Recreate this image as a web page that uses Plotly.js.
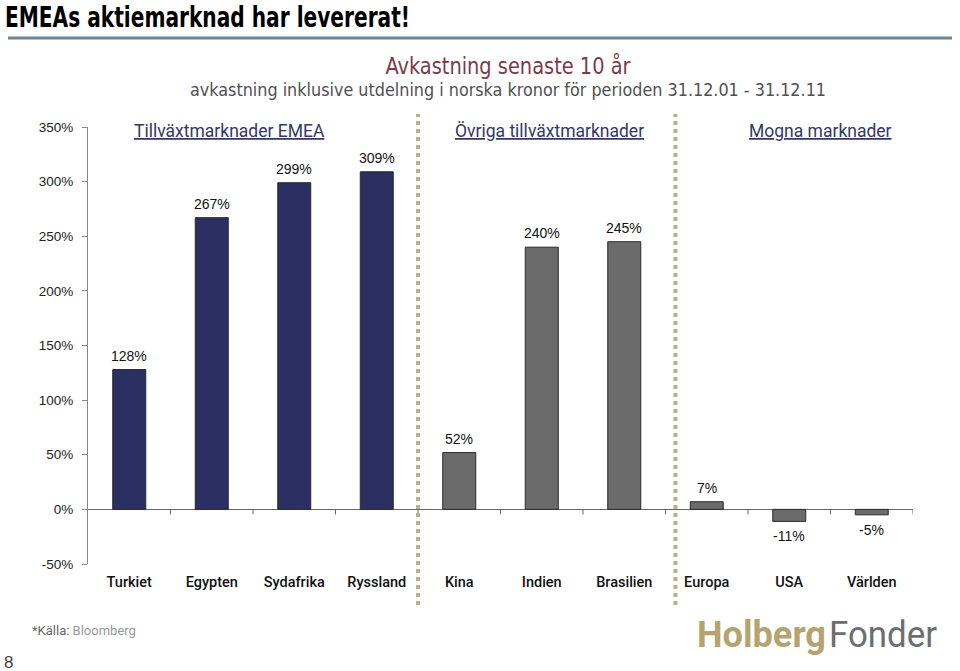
<!DOCTYPE html>
<html>
<head>
<meta charset="utf-8">
<script src="https://cdn.plot.ly/plotly-3.0.1.min.js"></script>
<style>html,body{margin:0;padding:0;background:#fff;}#chart{width:960px;height:671px;}</style>
</head>
<body>
<div id="chart"></div>
<script>
// ---- data ----
const categories = ["Turkiet","Egypten","Sydafrika","Ryssland","Kina","Indien","Brasilien","Europa","USA","Världen"];
const returns = [128, 267, 299, 309, 52, 240, 245, 7, -11, -5];
const groupOf = ["emea","emea","emea","emea","ovr","ovr","ovr","mogna","mogna","mogna"];
const groupHeaders = ["Tillväxtmarknader EMEA","Övriga tillväxtmarknader","Mogna marknader"];
const yTickVals = [-50, 0, 50, 100, 150, 200, 250, 300, 350];

// ---- geometry helpers (pixel -> paper) ----
const W = 960, H = 671, ML = 88, MR = 47, MT = 127, MB = 107;
const PW = W - ML - MR, PH = H - MT - MB;
const px = X => (X - ML) / PW;
const py = Y => (H - MB - Y) / PH;

const COND = "DejaVu Sans Condensed, Roboto, sans-serif";
const colors = {emea: "#2b2f62", ovr: "#6b6b6b", mogna: "#6b6b6b"};

const trace = {
  type: "bar",
  x: categories,
  y: returns,
  width: 0.4,
  marker: {color: groupOf.map(g => colors[g]), line: {color: "#2a2a2a", width: 1}},
  hoverinfo: "x+y"
};

const annotations = [];
// value labels
categories.forEach((c, i) => {
  const v = returns[i];
  annotations.push({
    x: c, y: v, xref: "x", yref: "y",
    text: v + "%", showarrow: false,
    yanchor: v >= 0 ? "bottom" : "top",
    yshift: v >= 0 ? 4 : -5,
    font: {family: "Liberation Sans, Arial, sans-serif", size: 14, color: "#111"}
  });
});
// group headers
const headerX = [229, 549, 820];
groupHeaders.forEach((t, i) => {
  annotations.push({
    x: px(headerX[i]), y: py(131), xref: "paper", yref: "paper",
    text: "<u>" + t + "</u>", showarrow: false, xanchor: "center", yanchor: "middle",
    font: {family: "Roboto, sans-serif", size: 17.5, color: "#343866"}
  });
});
// titles & misc text  (fit: target pixel width, applied after render)
const fits = [];
function addText(t, X, Y, xanchor, font, fitW) {
  annotations.push({x: px(X), y: py(Y), xref: "paper", yref: "paper", xanchor: xanchor, yanchor: "middle",
    showarrow: false, text: t, font: font});
  if (fitW) fits.push({idx: annotations.length - 1, w: fitW, X: X, anchor: xanchor});
}
addText("EMEAs aktiemarknad har levererat!", 5, 17, "left", {family: COND, size: 29, weight: 700, color: "#000"}, 405);
addText("Avkastning senaste 10 år", 508, 66, "center", {family: COND, size: 23, color: "#7b3b4a"}, 245);
addText("avkastning inklusive utdelning i norska kronor för perioden 31.12.01 - 31.12.11", 508, 89, "center",
  {family: COND, size: 18, color: "#505050"}, 636);
addText("<span style='color:#666'>*Källa:</span> Bloomberg", 30, 630, "left", {family: "Roboto, sans-serif", size: 13, color: "#999"});
addText("8", 2, 662, "left", {family: "Liberation Sans, Arial, sans-serif", size: 17, color: "#444"});
addText("<b>Holberg</b>", 697, 634, "left", {family: "Roboto, sans-serif", size: 37, color: "#b5a370"}, 129);
addText("Fonder", 829, 634, "left", {family: "Roboto, sans-serif", size: 37, color: "#6d6e70"}, 108);

const shapes = [];
// horizontal rule under title
shapes.push({type: "line", xref: "paper", yref: "paper", x0: px(8), x1: px(952), y0: py(38), y1: py(38),
  line: {color: "#6f8594", width: 3}});
// tick marks on zero line at category boundaries
categories.forEach((c, i) => {
  shapes.push({type: "line", xref: "x", yref: "y", ysizemode: "pixel", yanchor: 0, x0: i + 0.5, x1: i + 0.5, y0: 0, y1: -5,
    line: {color: "#666", width: 1}});
});
// dotted group separators
[3.5, 6.62].forEach(xv => {
  shapes.push({type: "line", xref: "x", yref: "paper", x0: xv, x1: xv, y0: py(605), y1: py(114),
    line: {color: "#bcb184", width: 4, dash: "4px,4px"}});
});

const layout = {
  width: W, height: H,
  margin: {l: ML, r: MR, t: MT, b: MB},
  paper_bgcolor: "#fff", plot_bgcolor: "#fff",
  showlegend: false,
  xaxis: {
    type: "category", range: [-0.5, 9.5], showgrid: false, zeroline: false, showline: false,
    ticks: "", tickfont: {family: "Roboto, sans-serif", size: 14.5, weight: 500, color: "#111"},
    ticklabelstandoff: 7, fixedrange: true
  },
  yaxis: {
    range: [-50, 350], tickvals: yTickVals, ticktext: yTickVals.map(v => v + "%"),
    showgrid: false, zeroline: true, zerolinecolor: "#666", zerolinewidth: 1,
    showline: true, linecolor: "#888", linewidth: 1, ticks: "outside", ticklen: 5, tickcolor: "#888",
    ticklabelstandoff: 6,
    tickfont: {family: "Liberation Sans, Arial, sans-serif", size: 13.5, color: "#222"}, fixedrange: true
  },
  annotations: annotations,
  shapes: shapes
};

Plotly.newPlot("chart", [trace], layout, {displayModeBar: false, staticPlot: true}).then(gd => {
  const groups = gd.querySelectorAll("g.annotation");
  fits.forEach(f => {
    const g = groups[f.idx];
    if (!g) return;
    const t = g.querySelector("text.annotation-text");
    if (!t) return;
    t.setAttribute("textLength", f.w);
    t.setAttribute("lengthAdjust", "spacingAndGlyphs");
    // re-anchor so the fitted text spans the intended pixels
    const bb = t.getBBox();
    const ctm = t.getCTM();
    const left = ctm.e + bb.x * ctm.a;
    const wantLeft = f.anchor === "left" ? f.X : f.X - f.w / 2;
    const dx = wantLeft - left;
    const prev = t.getAttribute("transform") || "";
    t.setAttribute("transform", prev + " translate(" + dx + ",0)");
  });
});
</script>
</body>
</html>
